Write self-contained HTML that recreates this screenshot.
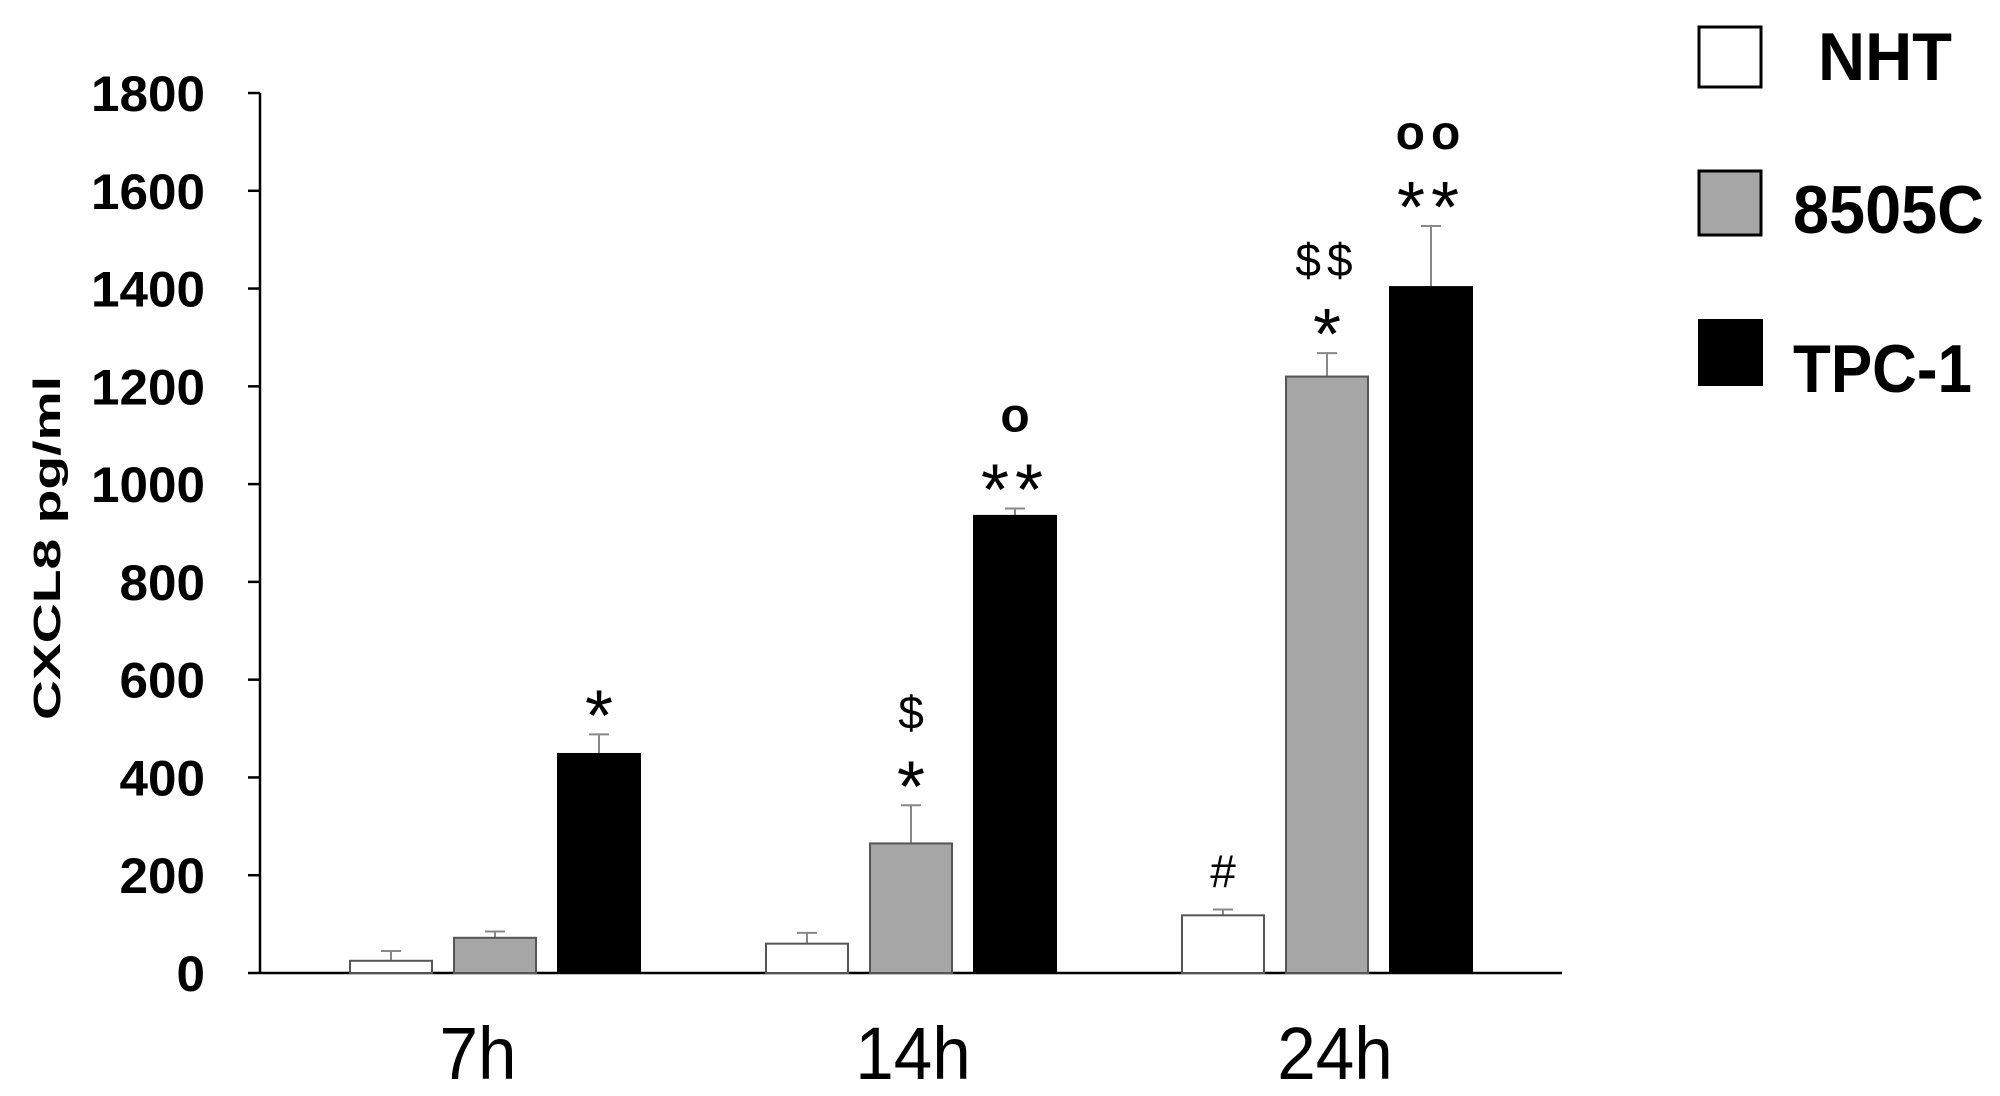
<!DOCTYPE html>
<html><head><meta charset="utf-8"><style>
html,body{margin:0;padding:0;background:#fff;}
svg{display:block;font-family:"Liberation Sans",sans-serif;}
</style></head><body>
<svg id="chart" width="2000" height="1096" viewBox="0 0 2000 1096" xmlns="http://www.w3.org/2000/svg">
<g id="axes"></g>
<g id="bars"></g>
<g id="annots"></g>
<text x="0" y="0" transform="translate(60,548) rotate(-90)" text-anchor="middle" font-weight="bold" font-size="38" textLength="344" lengthAdjust="spacingAndGlyphs">CXCL8 pg/ml</text>
<g>
<rect x="1699" y="27" width="62" height="60" fill="#fff" stroke="#000" stroke-width="3"/>
<text x="1818" y="80" font-size="68" font-weight="bold" textLength="134" lengthAdjust="spacingAndGlyphs">NHT</text>
<rect x="1699" y="171" width="62" height="64" fill="#a6a6a6" stroke="#000" stroke-width="3"/>
<text x="1793" y="233" font-size="68" font-weight="bold" textLength="191" lengthAdjust="spacingAndGlyphs">8505C</text>
<rect x="1698" y="319" width="65" height="67" fill="#000"/>
<text x="1793" y="392" font-size="68" font-weight="bold" textLength="179" lengthAdjust="spacingAndGlyphs">TPC-1</text>
</g>
</svg>
<script>
const categories = ["7h","14h","24h"];
const seriesNames = ["NHT","8505C","TPC-1"];
const nhtValues = [25,60,118];
const c8505Values = [72,265,1220];
const tpcValues = [448,935,1403];
const nhtErrors = [20,22,12];
const c8505Errors = [13,78,48];
const tpcErrors = [40,15,125];
const yTicks = [0,200,400,600,800,1000,1200,1400,1600,1800];
const annotations = [
  {cat:0, s:2, lines:["*"]},
  {cat:1, s:1, lines:["$","*"]},
  {cat:1, s:2, lines:["o","**"]},
  {cat:2, s:0, lines:["#"]},
  {cat:2, s:1, lines:["$$","*"]},
  {cat:2, s:2, lines:["oo","**"]}
];
const NS="http://www.w3.org/2000/svg";
const y0=973, yTop=93, xAxis0=260, xAxis1=1562;
function yScale(v){return y0-(v/1800)*(y0-yTop);}
const groupCenters=[495,911,1327];
const labelOffsets=[-17,2,8];
const barW=82, step=104;
function xBar(c,s){return groupCenters[c]+(s-1)*step-barW/2;}
function mk(tag,attrs,parent){const e=document.createElementNS(NS,tag);for(const k in attrs)e.setAttribute(k,attrs[k]);parent.appendChild(e);return e;}
const axes=document.getElementById('axes');
let el=mk('line',{x1:xAxis0,y1:yTop,x2:xAxis0,y2:y0,stroke:'#000','stroke-width':2.5},axes);


el=mk('line',{x1:xAxis0,y1:y0,x2:xAxis1,y2:y0,stroke:'#000','stroke-width':2.5},axes);


yTicks.forEach(t=>{
  const y=yScale(t);
  let tk=mk('line',{x1:xAxis0-12,y1:y,x2:xAxis0,y2:y,stroke:'#000','stroke-width':2.5},axes);
  
  
  const s=String(t);
  let tx=mk('text',{x:205,y:y+18,'text-anchor':'end','font-size':50,'font-weight':'bold',textLength:s.length*28.5,lengthAdjust:'spacingAndGlyphs'},axes);
  tx.textContent=s;
  
  
});
categories.forEach((c,i)=>{
  let tx=mk('text',{x:groupCenters[i]+labelOffsets[i],y:1079,'text-anchor':'middle','font-size':74,textLength:c.length*38.5,lengthAdjust:'spacingAndGlyphs'},axes);
  tx.textContent=c;
  
  
});
const bars=document.getElementById('bars');
const vals=[nhtValues,c8505Values,tpcValues];
const errs=[nhtErrors,c8505Errors,tpcErrors];
const fills=['#fff','#a6a6a6','#000'];
vals.forEach((arr,s)=>{
  arr.forEach((v,c)=>{
    const x=xBar(c,s), y=yScale(v), cx=x+barW/2;
    const ey=yScale(v+errs[s][c]);
    let e=mk('line',{x1:cx,y1:y,x2:cx,y2:ey,stroke:'#888','stroke-width':2},bars);
    
    
    e=mk('line',{x1:cx-10,y1:ey,x2:cx+10,y2:ey,stroke:'#888','stroke-width':2},bars);
    
    
    const r=mk('rect',{x:x,y:y,width:barW,height:y0-y,fill:fills[s],stroke:s===2?'#000':'#555','stroke-width':2},bars);
    
    
  });
});
const an=document.getElementById('annots');
annotations.forEach(a=>{
  const cx=xBar(a.cat,a.s)+barW/2;
  const top=yScale(vals[a.s][a.cat]+errs[a.s][a.cat]);
  const n=a.lines.length;
  a.lines.forEach((ln,i)=>{
    const k=n-1-i;
    const isStar=ln.indexOf('*')>=0;
    const isO=ln.indexOf('o')>=0;
    const y=top-22-k*55;
    let t=mk('text',{x:cx,y:isStar?y+28:y,'text-anchor':'middle','font-size':isStar?72:(isO?48:46),'font-weight':isO?'bold':'normal','letter-spacing':ln.length>1?6:0},an);
    t.textContent=ln;
    
    
  });
});
</script>
</body></html>
